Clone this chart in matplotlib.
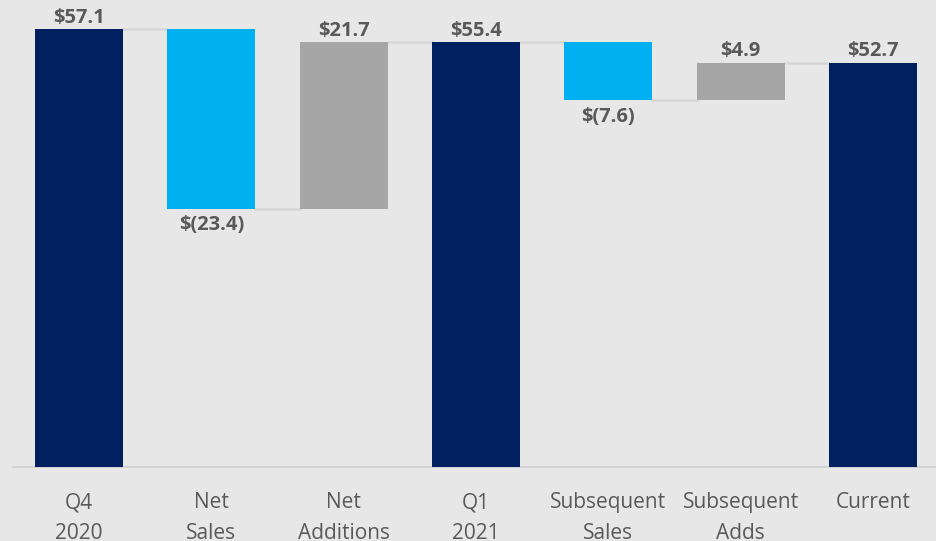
"""Waterfall: Q4 2020 to current."""
import numpy as np
import matplotlib.pyplot as plt

labels = ["Q4\n2020", "Net\nSales", "Net\nAdditions", "Q1\n2021",
          "Subsequent\nSales", "Subsequent\nAdds", "Current"]
values = [57.1, -23.4, 21.7, 55.4, -7.6, 4.9, 52.7]
kinds = ["total", "delta", "delta", "total", "delta", "delta", "total"]

navy, blue, grey = "#002060", "#00b0f0", "#a6a6a6"
bg = "#e7e7e7"
txt = "#595959"

plt.rcParams["font.family"] = ["Open Sans", "DejaVu Sans"]

fig = plt.figure(figsize=(9.36, 5.41), dpi=100, facecolor=bg)
ax = fig.add_axes([13 / 936, 74 / 541, 926 / 936, 467 / 541])
ax.set_facecolor(bg)

x = np.arange(len(values))
width = 0.665
level = 0.0
tops = []
for i, (v, k) in enumerate(zip(values, kinds)):
    if k == "total":
        bottom, height, color = 0, v, navy
        level = v
    else:
        bottom = level if v > 0 else level + v
        height = abs(v)
        color = grey if v > 0 else blue
        level = level + v
    ax.bar(x[i], height, bottom=bottom, width=width, color=color, zorder=3)
    tops.append(level)
    if v >= 0:
        ax.text(x[i], bottom + height + 0.2, f"${v:.1f}", ha="center", va="bottom",
                fontsize=14.5, fontweight="bold", color=txt)
    else:
        ax.text(x[i], bottom - 0.9, f"$({abs(v):.1f})", ha="center", va="top",
                fontsize=14.5, fontweight="bold", color=txt)

# connectors between bars
for i in range(len(values) - 1):
    ax.plot([x[i] + width / 2, x[i + 1] - width / 2], [tops[i], tops[i]],
            color="#d6d6d6", lw=1.8, zorder=2)

ax.set_xlim(-0.5, len(values) - 0.5)
ax.set_ylim(0, 60.9)
ax.set_yticks([])
ax.set_xticks(x)
ax.set_xticklabels(labels, fontsize=15, color=txt, linespacing=1.6)
ax.tick_params(axis="x", length=0, pad=18)
for s in ["top", "right", "left"]:
    ax.spines[s].set_visible(False)
ax.spines["bottom"].set_color("#d0d0d0")
ax.spines["bottom"].set_linewidth(1.2)

fig.savefig("out.png", dpi=100, facecolor=bg)
